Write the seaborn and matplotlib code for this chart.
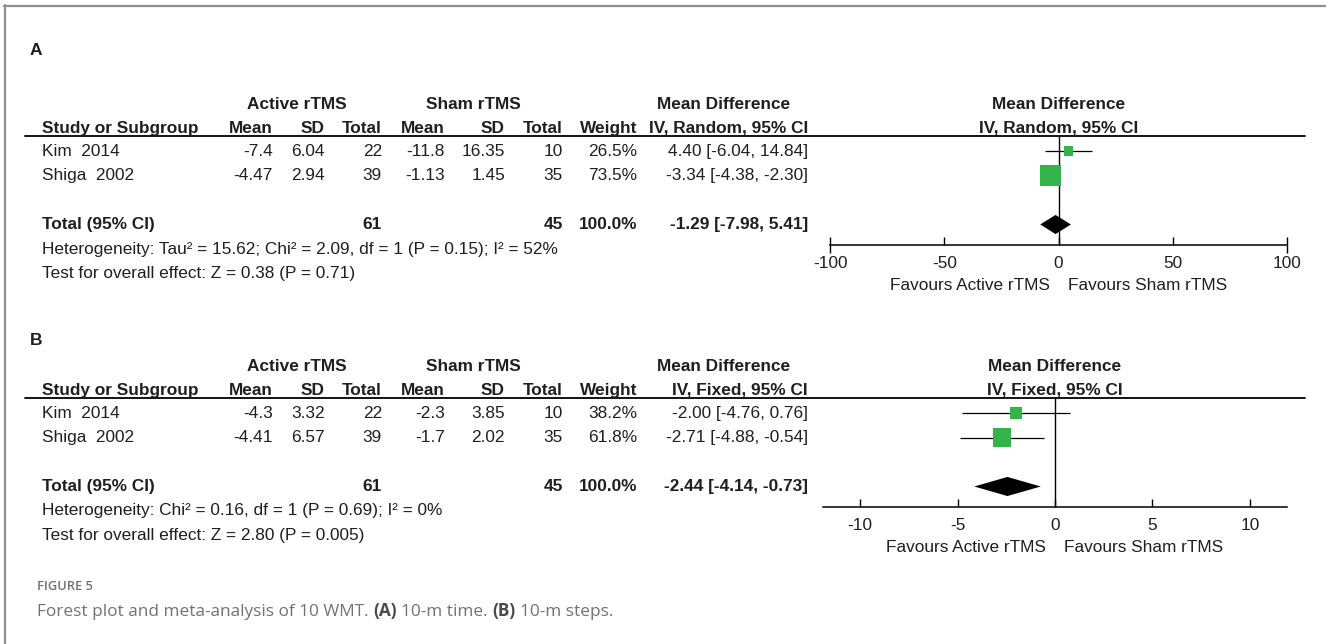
import matplotlib
matplotlib.use('Agg')
import matplotlib.pyplot as plt
import seaborn as sns
import pandas as pd

sns.set_theme(style='white')
plt.rcParams['font.family'] = ['Liberation Sans', 'DejaVu Sans']

studies = ['Kim  2014', 'Shiga  2002']

# panel A : 10-m time (random effects)
a_active_mean = [-7.4, -4.47]
a_active_sd = [6.04, 2.94]
a_active_n = [22, 39]
a_sham_mean = [-11.8, -1.13]
a_sham_sd = [16.35, 1.45]
a_sham_n = [10, 35]
a_weight = [26.5, 73.5]
a_md = [4.40, -3.34]
a_low = [-6.04, -4.38]
a_high = [14.84, -2.30]
a_total = [-1.29, -7.98, 5.41]  # md, low, high
a_het = 'Heterogeneity: Tau² = 15.62; Chi² = 2.09, df = 1 (P = 0.15); I² = 52%'
a_effect = 'Test for overall effect: Z = 0.38 (P = 0.71)'
a_ticks = [-100, -50, 0, 50, 100]

# panel B : 10-m steps (fixed effect)
b_active_mean = [-4.3, -4.41]
b_active_sd = [3.32, 6.57]
b_active_n = [22, 39]
b_sham_mean = [-2.3, -1.7]
b_sham_sd = [3.85, 2.02]
b_sham_n = [10, 35]
b_weight = [38.2, 61.8]
b_md = [-2.00, -2.71]
b_low = [-4.76, -4.88]
b_high = [0.76, -0.54]
b_total = [-2.44, -4.14, -0.73]
b_het = 'Heterogeneity: Chi² = 0.16, df = 1 (P = 0.69); I² = 0%'
b_effect = 'Test for overall effect: Z = 2.80 (P = 0.005)'
b_ticks = [-10, -5, 0, 5, 10]

W, H = 1326, 644
TXT = '#1f1f1f'
GREEN = '#33b34a'
FS = 12.4

fig = plt.figure(figsize=(W / 100, H / 100), dpi=100)
bg = fig.add_axes([0, 0, 1, 1])
bg.set_xlim(0, W)
bg.set_ylim(H, 0)
bg.axis('off')

# frame lines of the figure box
bg.plot([4, W], [5.5, 5.5], color='#8f8f8f', lw=1.6)
bg.plot([4.5, 4.5], [5, H], color='#8f8f8f', lw=1.6)

# column right edges (pixels)
cols = {'act_mean': 273, 'act_sd': 325, 'act_n': 382, 'sham_mean': 445,
        'sham_sd': 505, 'sham_n': 563, 'weight': 637, 'ci': 808}
STEP = 24.5


def put(x, y, s, ha='left', bold=False, size=FS, color=TXT):
    return bg.text(x, y, s, ha=ha, va='center', fontsize=size,
                   fontweight='bold' if bold else 'normal', color=color)


def panel(base, letter, method, act_mean, act_sd, act_n, sham_mean, sham_sd, sham_n,
          weight, md, low, high, total, het, effect, ticks, plot_x, xlim, sizes, end_ticks):
    put(30, letter[1], letter[0], bold=True, size=12.5)
    put(297, base + 104, 'Active rTMS', ha='center', bold=True)
    put(473, base + 104, 'Sham rTMS', ha='center', bold=True)
    put(724, base + 104, 'Mean Difference', ha='center', bold=True)
    put((plot_x[0] + plot_x[1]) / 2, base + 104, 'Mean Difference', ha='center', bold=True)

    y2 = base + 128
    put(42, y2, 'Study or Subgroup', bold=True)
    for key, lab in [('act_mean', 'Mean'), ('act_sd', 'SD'), ('act_n', 'Total'),
                     ('sham_mean', 'Mean'), ('sham_sd', 'SD'), ('sham_n', 'Total'),
                     ('weight', 'Weight'), ('ci', f'IV, {method}, 95% CI')]:
        put(cols[key], y2, lab, ha='right', bold=True)
    put((plot_x[0] + plot_x[1]) / 2, y2, f'IV, {method}, 95% CI', ha='center', bold=True)
    bg.plot([25, 1305], [base + 136, base + 136], color='black', lw=1.3)

    row0 = base + 151
    for i, st in enumerate(studies):
        y = row0 + i * STEP
        put(42, y, st)
        put(cols['act_mean'], y, f'{act_mean[i]:g}', ha='right')
        put(cols['act_sd'], y, f'{act_sd[i]:g}', ha='right')
        put(cols['act_n'], y, f'{act_n[i]}', ha='right')
        put(cols['sham_mean'], y, f'{sham_mean[i]:g}', ha='right')
        put(cols['sham_sd'], y, f'{sham_sd[i]:g}', ha='right')
        put(cols['sham_n'], y, f'{sham_n[i]}', ha='right')
        put(cols['weight'], y, f'{weight[i]:.1f}%', ha='right')
        put(cols['ci'], y, f'{md[i]:.2f} [{low[i]:.2f}, {high[i]:.2f}]', ha='right')

    yt = row0 + 3 * STEP
    put(42, yt, 'Total (95% CI)', bold=True)
    put(cols['act_n'], yt, f'{sum(act_n)}', ha='right', bold=True)
    put(cols['sham_n'], yt, f'{sum(sham_n)}', ha='right', bold=True)
    put(cols['weight'], yt, f'{sum(weight):.1f}%', ha='right', bold=True)
    put(cols['ci'], yt, f'{total[0]:.2f} [{total[1]:.2f}, {total[2]:.2f}]', ha='right', bold=True)
    put(42, row0 + 4 * STEP, het)
    put(42, row0 + 5 * STEP, effect)

    # forest plot area: from the header line down to the x axis
    y_top, y_axis = base + 136, base + 245
    fax = fig.add_axes([plot_x[0] / W, 1 - y_axis / H,
                        (plot_x[1] - plot_x[0]) / W, (y_axis - y_top) / H])
    fax.set_facecolor('none')
    df = pd.DataFrame({'md': md, 'low': low, 'high': high, 'weight': weight,
                       'row': list(range(len(studies)))})
    fax.axvline(0, color='black', lw=1, zorder=1)
    fax.hlines(df['row'], df['low'], df['high'], color='black', lw=0.9, zorder=2)
    sns.scatterplot(data=df, x='md', y='row', size='weight', sizes=sizes, marker='s',
                    color=GREEN, linewidth=0, legend=False, ax=fax, zorder=3)
    h = 0.39
    fax.fill([total[1], total[0], total[2], total[0]], [3, 3 - h, 3, 3 + h],
             color='black', lw=0, zorder=3)

    fax.set_xlim(*xlim)
    fax.set_ylim((y_axis - row0) / STEP, (y_top - row0) / STEP)
    fax.set_xlabel('')
    fax.set_ylabel('')
    fax.set_yticks([])
    for sp in ['top', 'left', 'right']:
        fax.spines[sp].set_visible(False)
    fax.spines['bottom'].set_color('black')
    fax.spines['bottom'].set_linewidth(1.1)
    fax.set_xticks(ticks)
    fax.set_xticklabels([str(t) for t in ticks])
    fax.tick_params(axis='x', which='major', bottom=True, direction='in', length=6,
                    width=1, color='black', pad=8, labelsize=FS, labelcolor=TXT)
    if end_ticks:
        fax.xaxis.remove_overlapping_locs = False
        fax.set_xticks([xlim[0], xlim[1]], minor=True)
        fax.tick_params(axis='x', which='minor', bottom=True, direction='out',
                        length=6, width=1, color='black')
    fax.annotate('Favours Active rTMS', xy=(0, 0), xycoords=('data', 'axes fraction'),
                 xytext=(-9, -41), textcoords='offset pixels', ha='right', va='center',
                 fontsize=FS, color=TXT)
    fax.annotate('Favours Sham rTMS', xy=(0, 0), xycoords=('data', 'axes fraction'),
                 xytext=(9, -41), textcoords='offset pixels', ha='left', va='center',
                 fontsize=FS, color=TXT)


panel(0, ('A', 50), 'Random', a_active_mean, a_active_sd, a_active_n, a_sham_mean,
      a_sham_sd, a_sham_n, a_weight, a_md, a_low, a_high, a_total, a_het, a_effect,
      a_ticks, (830, 1287), (-100, 100), (42, 229), True)
panel(262, ('B', 340), 'Fixed', b_active_mean, b_active_sd, b_active_n, b_sham_mean,
      b_sham_sd, b_sham_n, b_weight, b_md, b_low, b_high, b_total, b_het, b_effect,
      b_ticks, (823, 1287), (-11.9, 11.9), (75, 168), False)

# caption
bg.text(37, 587, 'FIGURE 5', ha='left', va='center', fontsize=9.3, color='#707070',
        family='Open Sans', fontweight='semibold')
pieces = [('Forest plot and meta-analysis of 10 WMT.', False), ('(A)', True),
          ('10-m time.', False), ('(B)', True), ('10-m steps.', False)]
renderer = fig.canvas.get_renderer()
x = 37
for s, b in pieces:
    t = bg.text(x, 616, s, ha='left', va='baseline', fontsize=12.4, family='Open Sans',
                fontweight='bold' if b else 'normal',
                color='#4a4a4a' if b else '#727272')
    x = t.get_window_extent(renderer).x1 + 4.5

plt.savefig('out.png', dpi=100)
plt.close()
